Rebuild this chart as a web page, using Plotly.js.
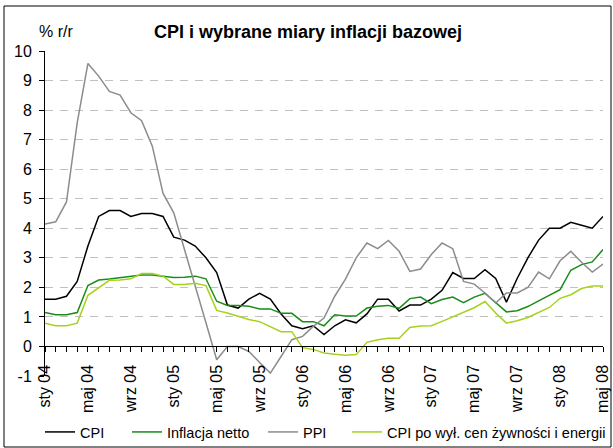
<!DOCTYPE html>
<html>
<head>
<meta charset="utf-8">
<script src="https://cdn.plot.ly/plotly-3.0.1.min.js"></script>
<style>html,body{margin:0;padding:0;background:#fff;}#chart{width:613px;height:448px;}</style>
</head>
<body>
<div id="chart"></div>
<script>
// Months: Jan 2004 .. May 2008 (index 0..52)
const monthIdx = Array.from({length: 53}, (_, i) => i);
const tickLabels = ["sty 04","maj 04","wrz 04","sty 05","maj 05","wrz 05","sty 06","maj 06","wrz 06","sty 07","maj 07","wrz 07","sty 08","maj 08"];
const yTickVals = [-1,0,1,2,3,4,5,6,7,8,9,10];
const yTickText = ["-1","0","1","2","3","4","5","6","7","8","9","10"];

const cpi = [1.6,1.6,1.7,2.2,3.4,4.4,4.6,4.6,4.4,4.5,4.5,4.4,
             3.7,3.6,3.4,3.0,2.5,1.4,1.3,1.6,1.8,1.6,1.1,0.7,
             0.6,0.7,0.4,0.7,0.9,0.8,1.1,1.6,1.6,1.2,1.4,1.4,
             1.6,1.9,2.5,2.3,2.3,2.6,2.3,1.5,2.3,3.0,3.6,4.0,
             4.0,4.2,4.1,4.0,4.4];
const netto = [1.15,1.07,1.07,1.15,2.06,2.25,2.28,2.33,2.37,2.42,2.42,2.38,
               2.33,2.34,2.38,2.29,1.53,1.39,1.39,1.36,1.27,1.27,1.12,1.12,
               0.84,0.84,0.70,1.07,1.03,1.03,1.30,1.36,1.39,1.29,1.62,1.67,
               1.45,1.59,1.67,1.48,1.67,1.80,1.48,1.17,1.21,1.35,1.54,1.73,
               1.92,2.58,2.77,2.86,3.28];
const ppi = [4.14,4.22,4.89,7.57,9.58,9.15,8.63,8.51,7.91,7.64,6.78,5.18,
             4.52,3.3,2.0,0.8,-0.45,0.0,0.0,-0.17,-0.54,-0.90,-0.34,0.23,
             0.34,0.68,0.96,1.70,2.28,3.0,3.50,3.31,3.59,3.22,2.54,2.62,
             3.11,3.50,3.31,2.20,2.11,1.81,1.47,1.81,1.81,2.0,2.52,2.29,
             2.90,3.22,2.85,2.52,2.79];
const bazowa = [0.79,0.70,0.70,0.79,1.73,1.98,2.24,2.25,2.29,2.47,2.47,2.38,
                2.10,2.10,2.14,2.06,1.22,1.13,1.01,0.91,0.84,0.68,0.50,0.50,
                -0.04,-0.10,-0.22,-0.26,-0.30,-0.27,0.14,0.23,0.28,0.28,0.64,0.69,
                0.70,0.85,1.01,1.15,1.31,1.52,1.13,0.79,0.87,0.98,1.14,1.32,
                1.63,1.75,1.96,2.05,2.05];

const seriesNames = ["CPI", "Inflacja netto", "PPI", "CPI po wył. cen żywności i energii"];
const seriesColors = ["#000000", "#1a8c1a", "#8c8c8c", "#a6d21e"];
const seriesData = [cpi, netto, ppi, bazowa];

const tickText = monthIdx.map(i => (i % 4 === 0 ? tickLabels[i / 4] : ""));

const FONT = "Liberation Sans, Arial, sans-serif";

const W = 613, H = 448, L = 45, R = 10, T = 51, B = 72;
const pw = W - L - R, ph = H - T - B;
const px = v => (v - L) / pw;
const py = v => (H - B - v) / ph;

const legendIds = ["legend", "legend2", "legend3", "legend4"];
const legendTextX = [80, 167, 303, 387];

const traces = seriesData.map((d, k) => ({
  x: monthIdx, y: d, type: "scatter", mode: "lines",
  name: seriesNames[k], legend: legendIds[k],
  line: {color: seriesColors[k], width: 1.5}
}));

const layout = {
  width: W, height: H,
  margin: {l: L, r: R, t: T, b: B},
  paper_bgcolor: "#ffffff", plot_bgcolor: "#ffffff",
  font: {family: FONT, color: "#000"},
  title: {text: "<b>CPI i wybrane miary inflacji bazowej</b>", font: {size: 18, family: FONT, color: "#000"},
          x: 308 / W, xref: "container", xanchor: "center", y: 1 - 32 / H, yref: "container", yanchor: "middle"},
  showlegend: true,
  xaxis: {range: [0, 52], anchor: "free", position: 1 / 11, showline: true, linecolor: "#000", linewidth: 1,
          ticks: "outside", ticklen: 5, tickcolor: "#000", tickvals: monthIdx, ticktext: tickText,
          tickangle: -90, showgrid: false, zeroline: false, tickfont: {size: 16, family: FONT, color: "#000"},
          ticklabelstandoff: 6, automargin: false, fixedrange: true},
  yaxis: {range: [-1, 10], tickvals: yTickVals, ticktext: yTickText, showline: true, linecolor: "#000", linewidth: 1,
          ticks: "outside", ticklen: 5, tickcolor: "#000", showgrid: true, gridcolor: "#c0c0c0",
          griddash: "8px,7px", gridwidth: 1, zeroline: false, tickfont: {size: 16, family: FONT, color: "#000"},
          ticklabelstandoff: 4, automargin: false, fixedrange: true},
  annotations: [{text: "% r/r", xref: "paper", yref: "paper", x: px(37), y: py(32), xanchor: "left", yanchor: "middle",
                 showarrow: false, font: {size: 16, family: FONT, color: "#000"}}],
  shapes: [{type: "rect", xref: "paper", yref: "paper", x0: px(4), x1: px(611), y0: py(447), y1: py(6),
            line: {color: "#000", width: 1}, layer: "below"}]
};

legendIds.forEach((id, k) => {
  layout[id] = {orientation: "h", xref: "container", yref: "container",
                x: (legendTextX[k] - 40) / W, y: 1 - 432 / H, xanchor: "left", yanchor: "middle",
                font: {size: 14.5, family: FONT, color: "#000"}, bgcolor: "rgba(0,0,0,0)", borderwidth: 0};
});

Plotly.newPlot("chart", traces, layout, {staticPlot: true, displayModeBar: false});
</script>
</body>
</html>
